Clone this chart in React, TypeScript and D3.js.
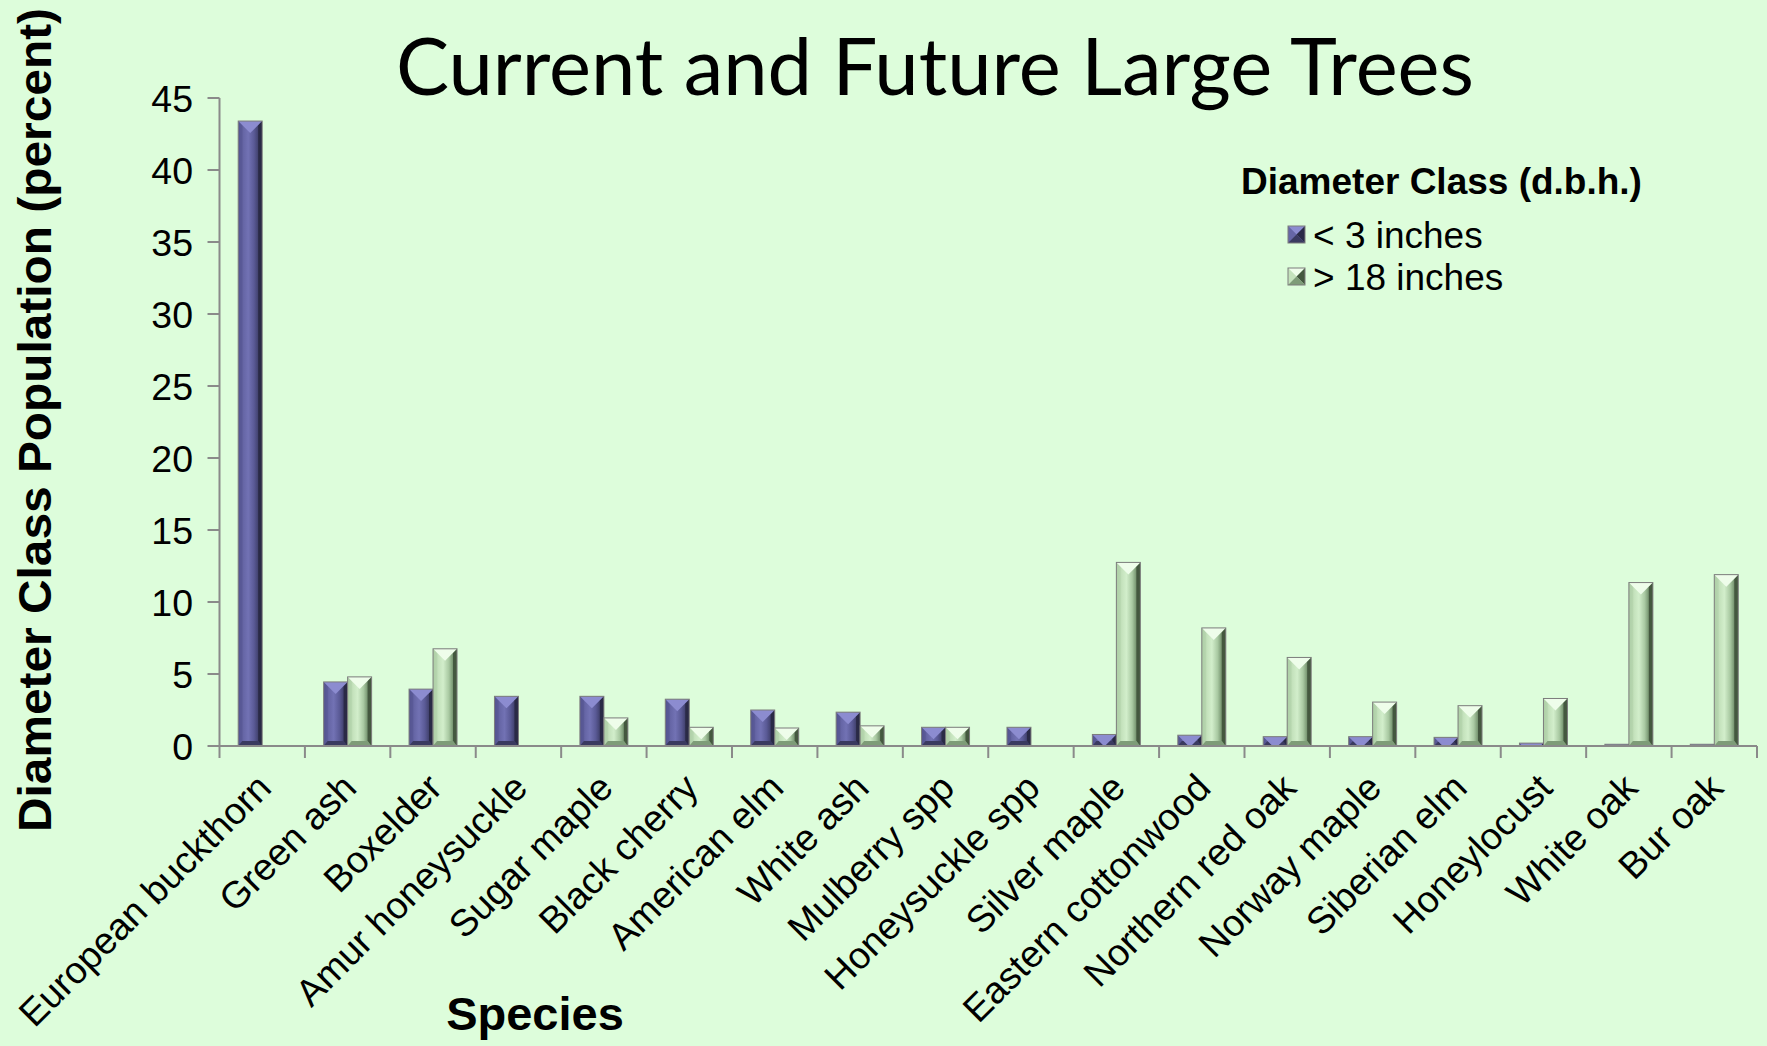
import React from "react";
import * as d3 from "d3";

// Species along the x axis
const species = [
  "European buckthorn",
  "Green ash",
  "Boxelder",
  "Amur honeysuckle",
  "Sugar maple",
  "Black cherry",
  "American elm",
  "White ash",
  "Mulberry spp",
  "Honeysuckle spp",
  "Silver maple",
  "Eastern cottonwood",
  "Northern red oak",
  "Norway maple",
  "Siberian elm",
  "Honeylocust",
  "White oak",
  "Bur oak",
];

// Percent of population, trees under 3 inches d.b.h.
const under3 = [43.4, 4.45, 3.95, 3.45, 3.45, 3.25, 2.5, 2.35, 1.3, 1.3, 0.8, 0.75, 0.65, 0.65, 0.6, 0.2, 0.12, 0.12];
// Percent of population, trees over 18 inches d.b.h.
const over18 = [0, 4.8, 6.75, 0, 1.95, 1.3, 1.25, 1.4, 1.3, 0, 12.75, 8.2, 6.15, 3.05, 2.8, 3.3, 11.35, 11.9];

const seriesKeys = ["under3", "over18"];
const seriesLabels = ["< 3 inches", "> 18 inches"];
const yTicks = [0, 5, 10, 15, 20, 25, 30, 35, 40, 45];

const W = 1767;
const H = 1046;
const plot = { left: 219.5, right: 1757, top: 98, bottom: 746 };

const palettes = {
  under3: {
    stops: ["#4c4c84", "#6666a6", "#7272b4", "#5a5a96", "#3e3e68", "#25253c"],
    top: "#8c8cd0",
    left: "#585896",
    right: "#2a2a46",
    bottom: "#3a3a60",
  },
  over18: {
    stops: ["#a0c098", "#c4e2bc", "#d2eecb", "#a9c9a2", "#6c8a66", "#3a4c38"],
    top: "#eefdea",
    left: "#b4d4ac",
    right: "#44583f",
    bottom: "#7e9c78",
  },
};

const sansFont = "'Liberation Sans', Arial, sans-serif";

function BevelBar({ id, x, y, w, h, pal }) {
  if (h <= 0) return null;
  const b = Math.min(4, w / 4);
  const bb = Math.min(5, h / 2);
  const t = w / 2;
  return (
    <g>
      <clipPath id={`clip-${id}`}>
        <rect x={x} y={y} width={w} height={h} />
      </clipPath>
      <g clipPath={`url(#clip-${id})`}>
        <rect x={x} y={y} width={w} height={h} fill={`url(#grad-${pal.key})`} />
        <polygon
          points={`${x},${y} ${x + b},${y + b} ${x + b},${y + h - bb} ${x},${y + h}`}
          fill={pal.left}
          opacity={0.7}
        />
        <polygon
          points={`${x + w},${y} ${x + w - b},${y + b} ${x + w - b},${y + h - bb} ${x + w},${y + h}`}
          fill={pal.right}
        />
        <polygon
          points={`${x},${y + h} ${x + b},${y + h - bb} ${x + w - b},${y + h - bb} ${x + w},${y + h}`}
          fill={pal.bottom}
        />
        <polygon points={`${x},${y} ${x + w},${y} ${x + w / 2},${y + t}`} fill={pal.top} />
      </g>
      <rect x={x} y={y} width={w} height={h} fill="none" stroke="#7c7c7c" strokeWidth={1} />
    </g>
  );
}

function LegendMarker({ x, y, s, pal }) {
  const c = s / 2;
  return (
    <g>
      <rect x={x} y={y} width={s} height={s} fill={pal.stops[2]} />
      <polygon points={`${x},${y} ${x + s},${y} ${x + c},${y + c}`} fill={pal.top} />
      <polygon points={`${x},${y} ${x + c},${y + c} ${x},${y + s}`} fill={pal.stops[1]} />
      <polygon points={`${x + s},${y} ${x + c},${y + c} ${x + s},${y + s}`} fill={pal.right} />
      <polygon points={`${x},${y + s} ${x + c},${y + c} ${x + s},${y + s}`} fill={pal.bottom} />
      <rect x={x} y={y} width={s} height={s} fill="none" stroke="#7c7c7c" strokeWidth={1} />
    </g>
  );
}

export default function App() {
  const x0 = d3.scaleBand<string>().domain(species).range([plot.left, plot.right]).paddingInner(0).paddingOuter(0);
  const x1 = d3
    .scaleBand<string>()
    .domain(seriesKeys)
    .range([0, x0.bandwidth()])
    .paddingInner(0)
    .paddingOuter(0.78);
  const y = d3.scaleLinear().domain([0, 45]).range([plot.bottom, plot.top]);

  const values = { under3, over18 };
  const step = x0.step();
  const boundaries = d3.range(species.length + 1).map((i) => plot.left + i * step);

  return (
    <svg
      width={W}
      height={H}
      viewBox={`0 0 ${W} ${H}`}
      style={{ position: "absolute", left: 0, top: 0, display: "block" }}
    >
      <defs>
        {seriesKeys.map((k) => (
          <linearGradient key={k} id={`grad-${k}`} x1="0" y1="0" x2="1" y2="0">
            {palettes[k].stops.map((c, i) => (
              <stop key={i} offset={[0, 0.22, 0.42, 0.66, 0.86, 1][i]} stopColor={c} />
            ))}
          </linearGradient>
        ))}
      </defs>

      <rect x={0} y={0} width={W} height={H} fill="#ddfddb" />

      {/* Title */}
      <text
        x={935}
        y={95}
        textAnchor="middle"
        fontFamily="Lato, 'Open Sans', sans-serif"
        fontSize={80}
        fill="#000"
        textLength={1078}
        lengthAdjust="spacingAndGlyphs"
      >
        Current and Future Large Trees
      </text>

      {/* Bars */}
      {species.map((sp, i) =>
        seriesKeys.map((k) => {
          const v = values[k][i];
          const bx = (x0(sp) as number) + (x1(k) as number);
          const by = y(v);
          return (
            <BevelBar
              key={`${sp}-${k}`}
              id={`${i}-${k}`}
              x={bx}
              y={by}
              w={x1.bandwidth()}
              h={plot.bottom - by}
              pal={{ ...palettes[k], key: k }}
            />
          );
        })
      )}

      {/* Y axis */}
      <g stroke="#8a8a8a" strokeWidth={2}>
        <line x1={plot.left} x2={plot.left} y1={y(45)} y2={plot.bottom} />
        {yTicks.map((t) => (
          <line key={t} x1={plot.left - 12} x2={plot.left} y1={y(t)} y2={y(t)} />
        ))}
      </g>
      {yTicks.map((t) => (
        <text
          key={t}
          x={193}
          y={y(t)}
          dy="0.36em"
          textAnchor="end"
          fontFamily={sansFont}
          fontSize={37.5}
          fill="#000"
        >
          {t}
        </text>
      ))}

      {/* X axis */}
      <g stroke="#8a8a8a" strokeWidth={2}>
        <line x1={plot.left} x2={plot.right} y1={plot.bottom} y2={plot.bottom} />
        {boundaries.map((bx, i) => (
          <line key={i} x1={bx} x2={bx} y1={plot.bottom} y2={plot.bottom + 12} />
        ))}
      </g>
      {species.map((sp) => {
        const cx = (x0(sp) as number) + x0.bandwidth() / 2 + 11;
        const cy = 790;
        return (
          <text
            key={sp}
            x={cx}
            y={cy}
            textAnchor="end"
            fontFamily={sansFont}
            fontSize={37.5}
            fill="#000"
            transform={`rotate(-45 ${cx} ${cy})`}
          >
            {sp}
          </text>
        );
      })}

      {/* Axis titles */}
      <text
        x={535}
        y={1030}
        textAnchor="middle"
        fontFamily={sansFont}
        fontWeight="bold"
        fontSize={47}
        fill="#000"
      >
        Species
      </text>
      <text
        x={51}
        y={420}
        textAnchor="middle"
        fontFamily={sansFont}
        fontWeight="bold"
        fontSize={47}
        fill="#000"
        transform="rotate(-90 51 420)"
        textLength={824}
        lengthAdjust="spacingAndGlyphs"
      >
        Diameter Class Population (percent)
      </text>

      {/* Legend */}
      <text x={1241} y={194} fontFamily={sansFont} fontWeight="bold" fontSize={37} fill="#000">
        Diameter Class (d.b.h.)
      </text>
      {seriesKeys.map((k, i) => (
        <g key={k}>
          <LegendMarker x={1288} y={226 + i * 42} s={17} pal={palettes[k]} />
          <text x={1313} y={248 + i * 42} fontFamily={sansFont} fontSize={37} fill="#000">
            {seriesLabels[i]}
          </text>
        </g>
      ))}
    </svg>
  );
}
